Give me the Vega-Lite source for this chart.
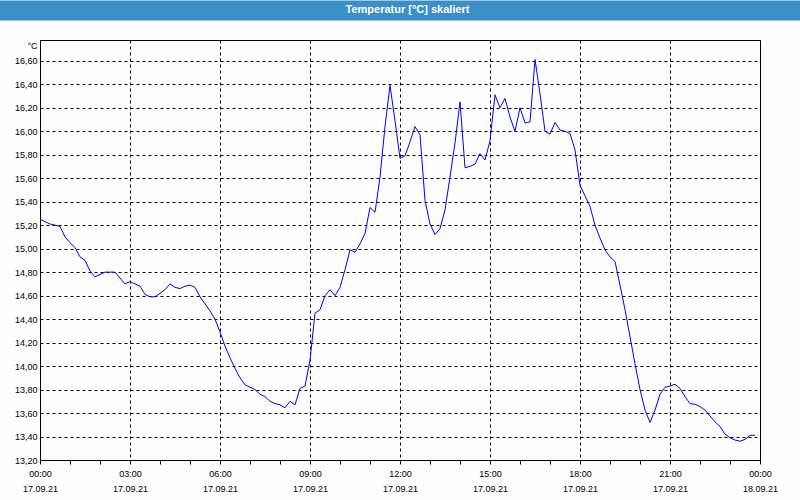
{
  "$schema": "https://vega.github.io/schema/vega-lite/v6.json",
  "width": 720,
  "height": 420,
  "autosize": {"type": "none"},
  "padding": {"left": 40, "top": 40, "right": 40, "bottom": 40},
  "background": "#fcfdfc",
  "config": {"view": {"stroke": "#000000", "strokeWidth": 1}},
  "data": {"values": [
    {"t":"2021-09-17T00:00","v":15.25},{"t":"2021-09-17T00:10","v":15.23},{"t":"2021-09-17T00:20","v":15.21},{"t":"2021-09-17T00:30","v":15.2},{"t":"2021-09-17T00:40","v":15.19},{"t":"2021-09-17T00:50","v":15.1},
    {"t":"2021-09-17T01:00","v":15.05},{"t":"2021-09-17T01:10","v":15.01},{"t":"2021-09-17T01:20","v":14.93},{"t":"2021-09-17T01:30","v":14.9},{"t":"2021-09-17T01:40","v":14.81},{"t":"2021-09-17T01:50","v":14.76},
    {"t":"2021-09-17T02:00","v":14.78},{"t":"2021-09-17T02:10","v":14.8},{"t":"2021-09-17T02:20","v":14.8},{"t":"2021-09-17T02:30","v":14.8},{"t":"2021-09-17T02:40","v":14.75},{"t":"2021-09-17T02:50","v":14.7},
    {"t":"2021-09-17T03:00","v":14.72},{"t":"2021-09-17T03:10","v":14.7},{"t":"2021-09-17T03:20","v":14.68},{"t":"2021-09-17T03:30","v":14.61},{"t":"2021-09-17T03:40","v":14.59},{"t":"2021-09-17T03:50","v":14.59},
    {"t":"2021-09-17T04:00","v":14.62},{"t":"2021-09-17T04:10","v":14.65},{"t":"2021-09-17T04:20","v":14.7},{"t":"2021-09-17T04:30","v":14.67},{"t":"2021-09-17T04:40","v":14.66},{"t":"2021-09-17T04:50","v":14.68},
    {"t":"2021-09-17T05:00","v":14.69},{"t":"2021-09-17T05:10","v":14.67},{"t":"2021-09-17T05:20","v":14.59},{"t":"2021-09-17T05:30","v":14.53},{"t":"2021-09-17T05:40","v":14.47},{"t":"2021-09-17T05:50","v":14.4},
    {"t":"2021-09-17T06:00","v":14.29},{"t":"2021-09-17T06:10","v":14.17},{"t":"2021-09-17T06:20","v":14.07},{"t":"2021-09-17T06:30","v":13.98},{"t":"2021-09-17T06:40","v":13.9},{"t":"2021-09-17T06:50","v":13.84},
    {"t":"2021-09-17T07:00","v":13.82},{"t":"2021-09-17T07:10","v":13.8},{"t":"2021-09-17T07:20","v":13.76},{"t":"2021-09-17T07:30","v":13.74},{"t":"2021-09-17T07:40","v":13.7},{"t":"2021-09-17T07:50","v":13.68},
    {"t":"2021-09-17T08:00","v":13.67},{"t":"2021-09-17T08:10","v":13.645},{"t":"2021-09-17T08:20","v":13.7},{"t":"2021-09-17T08:30","v":13.67},{"t":"2021-09-17T08:40","v":13.81},{"t":"2021-09-17T08:50","v":13.83},
    {"t":"2021-09-17T09:00","v":14.05},{"t":"2021-09-17T09:10","v":14.45},{"t":"2021-09-17T09:20","v":14.48},{"t":"2021-09-17T09:30","v":14.6},{"t":"2021-09-17T09:40","v":14.65},{"t":"2021-09-17T09:50","v":14.6},
    {"t":"2021-09-17T10:00","v":14.67},{"t":"2021-09-17T10:10","v":14.82},{"t":"2021-09-17T10:20","v":14.99},{"t":"2021-09-17T10:30","v":14.97},{"t":"2021-09-17T10:40","v":15.04},{"t":"2021-09-17T10:50","v":15.13},
    {"t":"2021-09-17T11:00","v":15.35},{"t":"2021-09-17T11:10","v":15.31},{"t":"2021-09-17T11:20","v":15.61},{"t":"2021-09-17T11:30","v":16.04},{"t":"2021-09-17T11:40","v":16.39},{"t":"2021-09-17T11:50","v":16.09},
    {"t":"2021-09-17T12:00","v":15.77},{"t":"2021-09-17T12:10","v":15.79},{"t":"2021-09-17T12:20","v":15.91},{"t":"2021-09-17T12:30","v":16.04},{"t":"2021-09-17T12:40","v":15.97},{"t":"2021-09-17T12:50","v":15.41},
    {"t":"2021-09-17T13:00","v":15.21},{"t":"2021-09-17T13:10","v":15.12},{"t":"2021-09-17T13:20","v":15.17},{"t":"2021-09-17T13:30","v":15.33},{"t":"2021-09-17T13:40","v":15.61},{"t":"2021-09-17T13:50","v":15.9},
    {"t":"2021-09-17T14:00","v":16.25},{"t":"2021-09-17T14:10","v":15.69},{"t":"2021-09-17T14:20","v":15.7},{"t":"2021-09-17T14:30","v":15.72},{"t":"2021-09-17T14:40","v":15.81},{"t":"2021-09-17T14:50","v":15.755},
    {"t":"2021-09-17T15:00","v":15.92},{"t":"2021-09-17T15:10","v":16.31},{"t":"2021-09-17T15:20","v":16.2},{"t":"2021-09-17T15:30","v":16.28},{"t":"2021-09-17T15:40","v":16.12},{"t":"2021-09-17T15:50","v":16.0},
    {"t":"2021-09-17T16:00","v":16.2},{"t":"2021-09-17T16:10","v":16.07},{"t":"2021-09-17T16:20","v":16.08},{"t":"2021-09-17T16:30","v":16.61},{"t":"2021-09-17T16:40","v":16.32},{"t":"2021-09-17T16:50","v":16.0},
    {"t":"2021-09-17T17:00","v":15.975},{"t":"2021-09-17T17:10","v":16.075},{"t":"2021-09-17T17:20","v":16.01},{"t":"2021-09-17T17:30","v":16.0},{"t":"2021-09-17T17:40","v":15.98},{"t":"2021-09-17T17:50","v":15.84},
    {"t":"2021-09-17T18:00","v":15.54},{"t":"2021-09-17T18:10","v":15.45},{"t":"2021-09-17T18:20","v":15.36},{"t":"2021-09-17T18:30","v":15.2},{"t":"2021-09-17T18:40","v":15.09},{"t":"2021-09-17T18:50","v":14.99},
    {"t":"2021-09-17T19:00","v":14.93},{"t":"2021-09-17T19:10","v":14.89},{"t":"2021-09-17T19:20","v":14.69},{"t":"2021-09-17T19:30","v":14.48},{"t":"2021-09-17T19:40","v":14.25},{"t":"2021-09-17T19:50","v":14.02},
    {"t":"2021-09-17T20:00","v":13.8},{"t":"2021-09-17T20:10","v":13.625},{"t":"2021-09-17T20:20","v":13.52},{"t":"2021-09-17T20:30","v":13.625},{"t":"2021-09-17T20:40","v":13.76},{"t":"2021-09-17T20:50","v":13.82},
    {"t":"2021-09-17T21:00","v":13.83},{"t":"2021-09-17T21:10","v":13.845},{"t":"2021-09-17T21:20","v":13.81},{"t":"2021-09-17T21:30","v":13.74},{"t":"2021-09-17T21:40","v":13.68},{"t":"2021-09-17T21:50","v":13.675},
    {"t":"2021-09-17T22:00","v":13.655},{"t":"2021-09-17T22:10","v":13.625},{"t":"2021-09-17T22:20","v":13.575},{"t":"2021-09-17T22:30","v":13.525},{"t":"2021-09-17T22:40","v":13.485},{"t":"2021-09-17T22:50","v":13.42},
    {"t":"2021-09-17T23:00","v":13.39},{"t":"2021-09-17T23:10","v":13.37},{"t":"2021-09-17T23:20","v":13.36},{"t":"2021-09-17T23:30","v":13.375},{"t":"2021-09-17T23:40","v":13.41},{"t":"2021-09-17T23:50","v":13.41}
  ]},
  "encoding": {
    "y": {
      "field": "v",
      "type": "quantitative",
      "scale": {"domain": [13.2, 16.777], "nice": false, "zero": false},
      "axis": {
        "values": [13.2, 13.4, 13.6, 13.8, 14.0, 14.2, 14.4, 14.6, 14.8, 15.0, 15.2, 15.4, 15.6, 15.8, 16.0, 16.2, 16.4, 16.6],
        "labelExpr": "replace(format(datum.value, '.2f'), '.', ',')",
        "ticks": false,
        "labelPadding": 3,
        "labelFont": "Liberation Sans",
        "labelFontSize": 9,
        "labelColor": "#000000",
        "domainColor": "#000000",
        "domainWidth": 1,
        "grid": true,
        "gridColor": "#000000",
        "gridDash": [3, 3],
        "gridWidth": 1,
        "gridOpacity": 1,
        "title": "°C",
        "titleAngle": 0,
        "titleAlign": "right",
        "titleBaseline": "middle",
        "titleX": -3,
        "titleY": 5,
        "titleFont": "Liberation Sans",
        "titleFontSize": 9,
        "titleFontWeight": "normal",
        "titleColor": "#000000"
      }
    }
  },
  "layer": [
    {
      "mark": {"type": "line", "opacity": 0},
      "encoding": {
        "x": {
          "field": "t",
          "type": "temporal",
          "scale": {"domain": [{"year": 2021, "month": 9, "date": 17}, {"year": 2021, "month": 9, "date": 18}], "nice": false},
          "axis": {
            "orient": "top",
            "values": [{"year": 2021, "month": 9, "date": 17, "hours": 12}],
            "domain": false,
            "labels": false,
            "grid": false,
            "ticks": true,
            "tickSize": 20,
            "tickWidth": 802,
            "tickColor": "#3c8fc6",
            "offset": 20,
            "title": "Temperatur [°C] skaliert",
            "titleColor": "#ffffff",
            "titleFont": "Liberation Sans",
            "titleFontSize": 11,
            "titleFontWeight": "bold",
            "titleAlign": "center",
            "titleBaseline": "middle",
            "titleX": 367,
            "titleY": -11
          }
        }
      }
    },
    {
      "mark": {"type": "line", "color": "#0000ff", "strokeWidth": 1},
      "encoding": {
        "x": {
          "field": "t",
          "type": "temporal",
          "scale": {"domain": [{"year": 2021, "month": 9, "date": 17}, {"year": 2021, "month": 9, "date": 18}], "nice": false},
          "axis": {
            "orient": "bottom",
            "tickCount": {"interval": "hours", "step": 1},
            "labelExpr": "hours(datum.value) % 3 === 0 ? [timeFormat(datum.value, '%H:%M'), timeFormat(datum.value, '%d.%m.%y')] : ''",
            "labelFont": "Liberation Sans",
            "labelFontSize": 9,
            "labelColor": "#000000",
            "labelBaseline": "top",
            "labelLineHeight": 15,
            "labelPadding": 5,
            "labelFlush": false,
            "labelOverlap": false,
            "labelBound": false,
            "tickSize": 4,
            "tickColor": "#000000",
            "domainColor": "#000000",
            "domainWidth": 1,
            "grid": true,
            "gridColor": "#000000",
            "gridDash": [3, 3],
            "gridWidth": 1,
            "gridOpacity": {"condition": {"test": "hours(datum.value) % 3 === 0", "value": 1}, "value": 0},
            "title": null
          }
        }
      }
    }
  ],
  "resolve": {"axis": {"x": "independent"}}
}
